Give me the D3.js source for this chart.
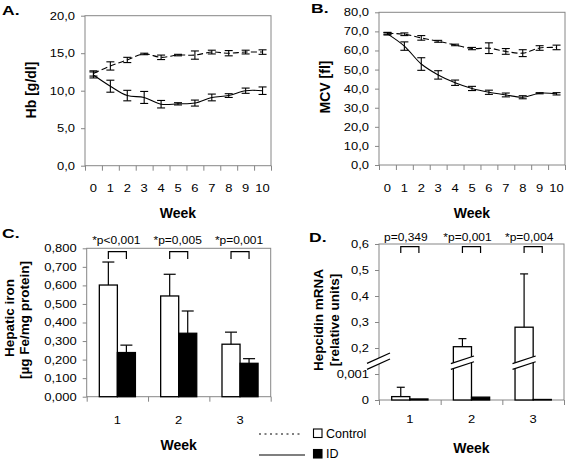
<!DOCTYPE html>
<html><head><meta charset="utf-8">
<script src="https://cdn.jsdelivr.net/npm/d3@7"></script>
<style>
body{margin:0;background:#fff}
svg{display:block}
text{font-family:"Liberation Sans",Arial,Helvetica,sans-serif;fill:#000}
</style>
</head><body>
<svg id="chart" width="568" height="466"></svg>
<script>
// ---------- DATA ----------
const weeks = ["0","1","2","3","4","5","6","7","8","9","10"];
const hbControl    = [12.3, 13.3, 14.1, 14.9, 14.45, 14.75, 14.75, 15.15, 15.0, 15.15, 15.15];
const hbControlErr = [0.35, 0.55, 0.35, 0.1, 0.3, 0.1, 0.55, 0.25, 0.35, 0.25, 0.3];
const hbID         = [12.1, 10.6, 9.35, 9.1, 8.2, 8.25, 8.35, 9.1, 9.35, 10.0, 10.0];
const hbIDErr      = [0.4, 0.8, 0.7, 0.8, 0.5, 0.15, 0.4, 0.45, 0.25, 0.35, 0.5];

const mcvControl    = [69.0, 68.5, 66.6, 64.8, 62.9, 61.0, 61.2, 59.5, 58.6, 61.3, 61.6];
const mcvControlErr = [0.5, 0.7, 1.2, 0.5, 0.4, 0.6, 2.8, 1.5, 1.8, 1.2, 1.2];
const mcvID         = [68.7, 62.3, 52.9, 47.2, 43.1, 40.1, 38.1, 36.7, 35.5, 37.6, 37.3];
const mcvIDErr      = [0.6, 2.2, 3.3, 2.2, 1.4, 1.1, 1.1, 1.0, 0.8, 0.3, 0.6];

const bioWeeks = ["1","2","3"];
const ironControl    = [0.602, 0.543, 0.283];
const ironControlErr = [0.124, 0.117, 0.065];
const ironID         = [0.238, 0.342, 0.180];
const ironIDErr      = [0.040, 0.120, 0.025];
const ironPLabels    = ["*p<0,001", "*p=0,005", "*p=0,001"];

const hepControl    = [0.00013, 0.205, 0.280];
const hepControlErr = [0.00036, 0.031, 0.205];
const hepID         = [0.00004, 0.00011, 0.00002];
const hepIDErr      = [0, 0.00002, 0];
const hepPLabels    = ["p=0,349", "*p=0,001", "*p=0,004"];

const hbTicks   = [0, 5, 10, 15, 20];
const mcvTicks  = [0, 10, 20, 30, 40, 50, 60, 70, 80];
const ironTicks = [0, 0.1, 0.2, 0.3, 0.4, 0.5, 0.6, 0.7, 0.8];
const hepTicks  = [0, 0.001, 0.2, 0.3, 0.4, 0.5, 0.6];
const hepTickLabels = ["0", "0,001", "0,2", "0,3", "0,4", "0,5", "0,6"];
const seriesNames = ["Control", "ID"];

// ---------- HELPERS ----------
const svg = d3.select("#chart");
const GRAY = "#868686";
const loc = d3.formatLocale({decimal: ",", thousands: ".", grouping: [3], currency: ["", ""]});
const TICK_FS = 10.8, STRETCH = 1.2;

function stretchText(sel) {
  sel.selectAll("text").each(function() {
    const t = d3.select(this);
    const x = +t.attr("x") || 0;
    t.attr("x", x / STRETCH).attr("transform", `scale(${STRETCH},1)`)
     .style("font-size", TICK_FS + "px").style("font-family", '"Liberation Sans",Arial,sans-serif').attr("fill", "#000");
  });
}
function cleanAxis(g) {
  g.select(".domain").remove();
  g.selectAll(".tick line").attr("stroke", GRAY);
}
function frame(x0, x1, yTop, yBot) {
  svg.append("rect").attr("x", x0).attr("y", yTop).attr("width", x1 - x0).attr("height", yBot - yTop)
    .attr("fill", "none").attr("stroke", GRAY).attr("stroke-width", 1);
}
function yAxis(y, x0, ticks, fmt) {
  const g = svg.append("g").attr("transform", `translate(${x0},0)`)
    .call(d3.axisLeft(y).tickValues(ticks).tickFormat(fmt).tickSize(4).tickPadding(6).tickSizeOuter(0));
  cleanAxis(g); stretchText(g);
}
function xAxis(band, n, x0, x1, yBot, labelGap) {
  const b = d3.scaleLinear().domain([0, n]).range([x0, x1]);
  const g1 = svg.append("g").attr("transform", `translate(0,${yBot})`)
    .call(d3.axisBottom(b).tickValues(d3.range(n + 1)).tickFormat("").tickSize(5).tickSizeOuter(0));
  cleanAxis(g1);
  const g2 = svg.append("g").attr("transform", `translate(0,${yBot})`)
    .call(d3.axisBottom(band).tickSize(0).tickPadding(labelGap));
  g2.select(".domain").remove(); stretchText(g2);
}
function boldText(x, y, str, size, anchor, rotate) {
  const t = svg.append("text").attr("font-weight", "bold").style("font-size", size + "px")
    .attr("text-anchor", anchor || "middle").text(str);
  if (rotate) t.attr("transform", `translate(${x},${y}) rotate(-90)`);
  else t.attr("x", x).attr("y", y);
  return t;
}
function panelLetter(x, y, str) {
  svg.append("text").attr("font-weight", "bold").style("font-size", "13px")
    .attr("transform", `translate(${x},${y}) scale(1.35,1)`).text(str);
}

// ---------- LINE PANELS ----------
function linePanel(o) {
  const x = d3.scaleBand().domain(weeks).range([o.x0, o.x1]);
  const y = d3.scaleLinear().domain([0, o.ymax]).range([o.yBot, o.yTop]);
  frame(o.x0, o.x1, o.yTop, o.yBot);
  yAxis(y, o.x0, o.ticks, loc.format(".1f"));
  xAxis(x, weeks.length, o.x0, o.x1, o.yBot, 19);
  const cx = d => x(d) + x.bandwidth() / 2;
  const series = [
    {vals: o.control, errs: o.controlErr, dash: "6,3"},
    {vals: o.id, errs: o.idErr, dash: null}
  ];
  series.forEach(s => {
    const pts = weeks.map((w, i) => [cx(w), y(s.vals[i])]);
    svg.append("path").attr("d", d3.line().curve(d3.curveCatmullRom.alpha(0.5))(pts))
      .attr("fill", "none").attr("stroke", "#000").attr("stroke-width", 1.1)
      .attr("stroke-dasharray", s.dash);
    const eg = svg.append("g").attr("stroke", "#000").attr("stroke-width", 1.1);
    weeks.forEach((w, i) => {
      const xc = cx(w), lo = y(s.vals[i] - s.errs[i]), hi = y(s.vals[i] + s.errs[i]);
      eg.append("line").attr("x1", xc).attr("x2", xc).attr("y1", lo).attr("y2", hi);
      eg.append("line").attr("x1", xc - 4).attr("x2", xc + 4).attr("y1", lo).attr("y2", lo);
      eg.append("line").attr("x1", xc - 4).attr("x2", xc + 4).attr("y1", hi).attr("y2", hi);
    });
  });
  boldText(o.titleX, o.titleY, o.ytitle, 14, "middle", true);
  boldText((o.x0 + o.x1) / 2, o.weekY, "Week", 14);
  panelLetter(o.letterX, o.letterY, o.letter);
}

linePanel({x0: 85, x1: 271, yTop: 15.7, yBot: 165.7, ymax: 20, ticks: hbTicks,
  control: hbControl, controlErr: hbControlErr, id: hbID, idErr: hbIDErr,
  ytitle: "Hb [g/dl]", titleX: 36, titleY: 90, weekY: 218, letter: "A.", letterX: 2, letterY: 15});
linePanel({x0: 379, x1: 565, yTop: 12.3, yBot: 165, ymax: 80, ticks: mcvTicks,
  control: mcvControl, controlErr: mcvControlErr, id: mcvID, idErr: mcvIDErr,
  ytitle: "MCV [fl]", titleX: 330, titleY: 87, weekY: 218, letter: "B.", letterX: 311, letterY: 13});

// ---------- BAR PANELS ----------
function barPanel(o) {
  const x = d3.scaleBand().domain(bioWeeks).range([o.x0, o.x1]);
  const xs = d3.scaleBand().domain(seriesNames).range([0, x.bandwidth()]).paddingInner(0).paddingOuter(0.7);
  const y = o.y;
  frame(o.x0, o.x1, o.yTop, o.yBot);
  yAxis(y, o.x0, o.ticks, o.fmt);
  xAxis(x, bioWeeks.length, o.x0, o.x1, o.yBot, o.labelGap);
  const data = [
    {name: "Control", vals: o.control, errs: o.controlErr, fill: "#fff"},
    {name: "ID", vals: o.id, errs: o.idErr, fill: "#000"}
  ];
  data.forEach(s => {
    bioWeeks.forEach((w, i) => {
      const bx = x(w) + xs(s.name), bw = xs.bandwidth();
      const top = y(s.vals[i]), et = y(s.vals[i] + s.errs[i]);
      svg.append("rect").attr("x", bx).attr("y", top).attr("width", bw).attr("height", o.yBot - top)
        .attr("fill", s.fill).attr("stroke", "#000").attr("stroke-width", 1.3);
      if (s.errs[i] > 0 && top - et > 0.8) {
        const xc = bx + bw / 2;
        svg.append("line").attr("x1", xc).attr("x2", xc).attr("y1", top).attr("y2", et).attr("stroke", "#000").attr("stroke-width", 1.2);
        svg.append("line").attr("x1", xc - o.cap / 2).attr("x2", xc + o.cap / 2).attr("y1", et).attr("y2", et).attr("stroke", "#000").attr("stroke-width", 1.2);
      }
    });
  });
  // significance brackets
  bioWeeks.forEach((w, i) => {
    const xa = x(w) + xs("Control") + xs.bandwidth() / 2, xb = x(w) + xs("ID") + xs.bandwidth() / 2;
    svg.append("path").attr("d", `M${xa},${o.brBot}V${o.brTop}H${xb}V${o.brBot}`)
      .attr("fill", "none").attr("stroke", "#000").attr("stroke-width", 1.2);
    svg.append("text").attr("text-anchor", "middle")
      .attr("transform", `translate(${x(w) + x.bandwidth() / 2 + o.pShift},${o.pY}) scale(1.2,1)`)
      .style("font-size", "10px").text(o.pLabels[i]);
  });
  o.titles.forEach(t => boldText(t.x, t.y, t.s, 13.5, "middle", true));
  boldText((o.x0 + o.x1) / 2, o.weekY, "Week", 14);
  panelLetter(o.letterX, o.letterY, o.letter);
  return {x, xs};
}

barPanel({x0: 86.7, x1: 270.7, yTop: 248.3, yBot: 396.7,
  y: d3.scaleLinear().domain([0, 0.8]).range([396.7, 248.3]),
  ticks: ironTicks, fmt: loc.format(".3f"), labelGap: 20, cap: 12,
  control: ironControl, controlErr: ironControlErr, id: ironID, idErr: ironIDErr,
  pLabels: ironPLabels, pY: 244, pShift: -1, brTop: 251.7, brBot: 259,
  titles: [{x: 13.5, y: 318, s: "Hepatic iron"}, {x: 28.5, y: 320, s: "[µg Fe/mg protein]"}],
  weekY: 450, letter: "C.", letterX: 2, letterY: 238});

const hepY = d3.scaleLinear().domain([0, 0.001, 0.2, 0.6]).range([400, 374, 348, 244]);
const dp = barPanel({x0: 379, x1: 564, yTop: 244, yBot: 400, y: hepY,
  ticks: hepTicks, fmt: (d, i) => hepTickLabels[i], labelGap: 15, cap: 8,
  control: hepControl, controlErr: hepControlErr, id: hepID, idErr: hepIDErr,
  pLabels: hepPLabels, pY: 240.5, pShift: -4, brTop: 246.7, brBot: 253,
  titles: [{x: 322.5, y: 320, s: "Hepcidin mRNA"}, {x: 338.5, y: 320, s: "[relative units]"}],
  weekY: 453, letter: "D.", letterX: 309, letterY: 241.5});

// axis breaks in panel D
function breakMark(xl, xr, xc, yc, slope, gap) {
  const yu = xx => yc - gap / 2 - slope * (xx - xc);
  const yl = xx => yc + gap / 2 - slope * (xx - xc);
  svg.append("path").attr("d", `M${xl},${yu(xl)}L${xr},${yu(xr)}L${xr},${yl(xr)}L${xl},${yl(xl)}Z`)
    .attr("fill", "#fff").attr("stroke", "none");
  [yu, yl].forEach(f => svg.append("line").attr("x1", xl).attr("y1", f(xl)).attr("x2", xr).attr("y2", f(xr))
    .attr("stroke", "#000").attr("stroke-width", 1.2));
}
const breakY = (hepY(0.001) + hepY(0.2)) / 2;
breakMark(367, 390, 379, breakY, 0.45, 6);
bioWeeks.forEach((w, i) => {
  if (hepControl[i] > 0.001) {
    const bx = dp.x(w) + dp.xs("Control"), bw = dp.xs.bandwidth();
    breakMark(bx - 2.5, bx + bw + 2.5, bx + bw / 2, breakY + 1.7, 0.33, 5.8);
  }
});

// ---------- LEGEND ----------
svg.append("line").attr("x1", 259).attr("x2", 303).attr("y1", 434).attr("y2", 434)
  .attr("stroke", "#000").attr("stroke-width", 1).attr("stroke-dasharray", "2,3.5");
svg.append("line").attr("x1", 259).attr("x2", 305).attr("y1", 455).attr("y2", 455)
  .attr("stroke", "#000").attr("stroke-width", 1.2);
svg.append("rect").attr("x", 313.5).attr("y", 429).attr("width", 8.5).attr("height", 8.5)
  .attr("fill", "#fff").attr("stroke", "#000").attr("stroke-width", 1.1);
svg.append("rect").attr("x", 313.5).attr("y", 449.5).attr("width", 8.5).attr("height", 8.5)
  .attr("fill", "#000").attr("stroke", "#000").attr("stroke-width", 1.1);
svg.append("text").attr("x", 326).attr("y", 437.5).style("font-size", "12.5px").text(seriesNames[0]);
svg.append("text").attr("x", 326).attr("y", 458).style("font-size", "12.5px").text(seriesNames[1]);
</script>
</body></html>
